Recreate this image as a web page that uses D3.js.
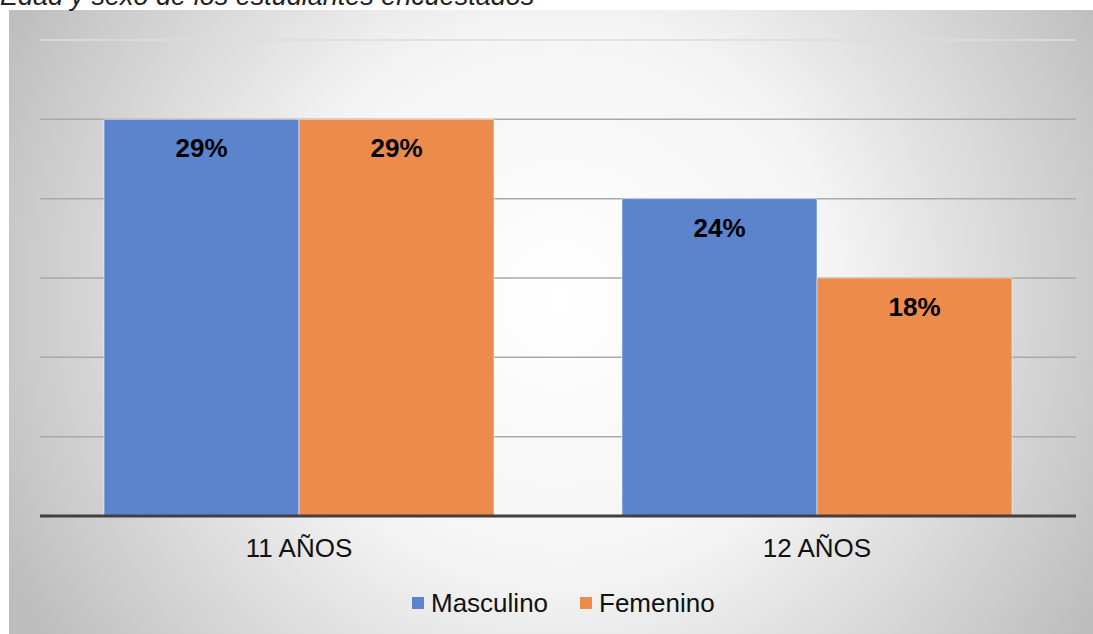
<!DOCTYPE html>
<html>
<head>
<meta charset="utf-8">
<script src="https://cdn.jsdelivr.net/npm/d3@7"></script>
<style>
  body { margin: 0; background: #fff; }
  svg { display: block; font-family: "Liberation Sans", Arial, sans-serif; }
</style>
</head>
<body>
<div id="chart"></div>
<script>
// chart data
const categories = ['11 AÑOS', '12 AÑOS'];
const seriesNames = ['Masculino', 'Femenino'];
const masculino = [5, 4];
const femenino = [5, 3];
const labelsMasculino = ['29%', '24%'];
const labelsFemenino = ['29%', '18%'];
const yTicks = [0, 1, 2, 3, 4, 5, 6];

const colors = ['#5b84cc', '#ec8b4b'];

const W = 1093, H = 634;
const margin = {top: 40, right: 17, bottom: 118, left: 40},
    width = W - margin.left - margin.right,
    height = H - margin.top - margin.bottom;

const svg = d3.select('#chart').append('svg')
  .attr('width', W)
  .attr('height', H);

// background gradient
const defs = svg.append('defs');
const grad = defs.append('radialGradient')
  .attr('id', 'bg')
  .attr('gradientUnits', 'userSpaceOnUse')
  .attr('cx', 560).attr('cy', 300).attr('r', 620);
grad.append('stop').attr('offset', '0%').attr('stop-color', '#ffffff');
grad.append('stop').attr('offset', '45%').attr('stop-color', '#f4f4f4');
grad.append('stop').attr('offset', '100%').attr('stop-color', '#bdbdbd');

svg.append('rect')
  .attr('x', 9).attr('y', 10)
  .attr('width', W - 9).attr('height', H - 10)
  .attr('fill', 'url(#bg)');

// title (cut at the top, as in the source)
svg.append('text')
  .attr('x', 0).attr('y', 5)
  .attr('font-size', 27)
  .attr('font-style', 'italic')
  .attr('fill', '#222')
  .text('Edad y sexo de los estudiantes encuestados');

const g = svg.append('g')
  .attr('transform', `translate(${margin.left},${margin.top})`);

const x0 = d3.scaleBand()
  .domain(categories)
  .range([0, width])
  .paddingInner(0)
  .paddingOuter(0);

const x1 = d3.scaleBand()
  .domain(seriesNames)
  .range([0, 390])
  .padding(0);

const y = d3.scaleLinear()
  .domain([0, 6])
  .range([height, 0]);

// gridlines
g.append('g')
  .selectAll('line')
  .data(yTicks.filter(d => d > 0))
  .enter()
  .append('line')
  .attr('x1', 0).attr('x2', width)
  .attr('y1', d => y(d)).attr('y2', d => y(d))
  .attr('stroke', d => d === 6 ? '#dcdcdc' : '#a9a9a9')
  .attr('stroke-width', 1.5);

const rows = categories.map((c, i) => ({
  cat: c,
  vals: [
    { s: seriesNames[0], v: masculino[i], label: labelsMasculino[i] },
    { s: seriesNames[1], v: femenino[i], label: labelsFemenino[i] }
  ]
}));

const groups = g.append('g')
  .selectAll('g')
  .data(rows)
  .enter()
  .append('g')
  .attr('transform', d => `translate(${x0(d.cat) + (x0.bandwidth() - 390) / 2},0)`);

groups.selectAll('rect')
  .data(d => d.vals)
  .enter()
  .append('rect')
  .attr('x', d => x1(d.s))
  .attr('y', d => y(d.v))
  .attr('width', x1.bandwidth())
  .attr('height', d => height - y(d.v))
  .attr('fill', (d, i) => colors[i])
  .attr('stroke', '#fff')
  .attr('stroke-opacity', 0.5)
  .attr('stroke-width', 1);

groups.selectAll('text')
  .data(d => d.vals)
  .enter()
  .append('text')
  .attr('x', d => x1(d.s) + x1.bandwidth() / 2)
  .attr('y', d => y(d.v) + 38)
  .attr('text-anchor', 'middle')
  .attr('font-size', 26)
  .attr('font-weight', 'bold')
  .attr('fill', '#000')
  .text(d => d.label);

// baseline
g.append('line')
  .attr('x1', 0).attr('x2', width)
  .attr('y1', height).attr('y2', height)
  .attr('stroke', '#404040')
  .attr('stroke-width', 3);

// x axis labels
const xAxis = g.append('g')
  .attr('transform', `translate(0,${height})`)
  .call(d3.axisBottom(x0).tickSize(0).tickPadding(23));
xAxis.select('.domain').remove();
xAxis.selectAll('text')
  .attr('font-size', 26)
  .attr('font-family', '"Liberation Sans", Arial, sans-serif')
  .attr('fill', '#111');

// legend
const legend = svg.append('g').attr('transform', 'translate(0,603)');
const legendItems = [
  { name: seriesNames[0], x: 412 },
  { name: seriesNames[1], x: 580 }
];
legendItems.forEach((d, i) => {
  legend.append('rect')
    .attr('x', d.x).attr('y', -6)
    .attr('width', 12).attr('height', 12)
    .attr('fill', colors[i]);
  legend.append('text')
    .attr('x', d.x + 19).attr('y', 9)
    .attr('font-size', 26)
    .attr('fill', '#111')
    .text(d.name);
});
</script>
</body>
</html>
